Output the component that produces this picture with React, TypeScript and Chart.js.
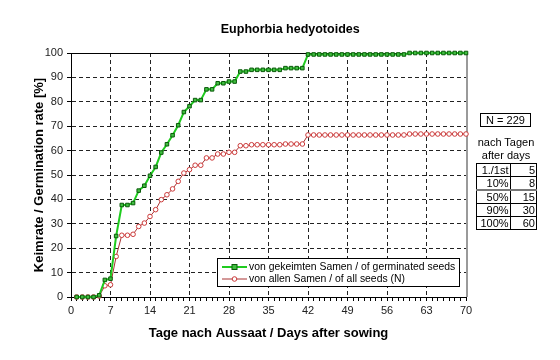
import React, { useEffect, useRef } from 'react';
import { Chart, registerables } from 'chart.js';

Chart.register(...registerables);

const chartTitle = 'Euphorbia hedyotoides';
const xAxisTitle = 'Tage nach Aussaat / Days after sowing';
const yAxisTitle = 'Keimrate / Germination rate [%]';
const seriesLabels = ['von gekeimten Samen / of germinated seeds', 'von allen Samen / of all seeds (N)'];

const days = [
  1, 2, 3, 4, 5, 6, 7, 8, 9, 10, 11, 12, 13, 14, 15, 16, 17, 18, 19, 20,
  21, 22, 23, 24, 25, 26, 27, 28, 29, 30, 31, 32, 33, 34, 35, 36, 37, 38, 39, 40,
  41, 42, 43, 44, 45, 46, 47, 48, 49, 50, 51, 52, 53, 54, 55, 56, 57, 58, 59, 60,
  61, 62, 63, 64, 65, 66, 67, 68, 69, 70,
];

const germinatedSeeds = [
  0, 0, 0, 0, 0.7, 7, 7.5, 25, 37.7, 37.7,
  38.5, 43.6, 45.6, 49.7, 53.3, 59.2, 62.6, 66.3, 70.4, 75.8,
  78.2, 80.7, 80.7, 85.1, 85.1, 87.6, 87.6, 88.3, 88.3, 92.4,
  92.4, 93.1, 93.1, 93.1, 93.1, 93.1, 93.1, 93.8, 93.8, 93.8,
  93.8, 99.4, 99.4, 99.4, 99.4, 99.4, 99.4, 99.4, 99.4, 99.4,
  99.4, 99.4, 99.4, 99.4, 99.4, 99.4, 99.4, 99.4, 99.4, 100,
  100, 100, 100, 100, 100, 100, 100, 100, 100, 100,
];

const allSeeds = [
  0, 0, 0, 0, 0.4, 4.6, 5.0, 16.6, 25.3, 25.3,
  25.7, 28.9, 30.3, 33.0, 35.8, 39.9, 41.9, 44.3, 47.4, 50.8,
  52.2, 54.0, 54.0, 57.0, 57.0, 58.6, 58.6, 59.3, 59.3, 62.0,
  62.0, 62.4, 62.4, 62.4, 62.4, 62.4, 62.4, 62.7, 62.7, 62.7,
  62.7, 66.4, 66.4, 66.4, 66.4, 66.4, 66.4, 66.4, 66.4, 66.4,
  66.4, 66.4, 66.4, 66.4, 66.4, 66.4, 66.4, 66.4, 66.4, 66.8,
  66.8, 66.8, 66.8, 66.8, 66.8, 66.8, 66.8, 66.8, 66.8, 66.8,
];

const xMajorStep = 7;
const xMax = 70;
const yMax = 100;
const yStep = 10;

const sampleSizeText = 'N = 229';
const tableHeader = ['nach Tagen', 'after days'];
const milestoneLabels = ['1./1st', '10%', '50%', '90%', '100%'];
const milestoneDays = ['5', '8', '15', '30', '60'];

const FONT = '"Liberation Sans", Arial, Helvetica, sans-serif';

const GREEN_LINE = '#1fcc1f';
const GREEN_FILL = '#3fbf3f';
const GREEN_EDGE = '#0a5a0a';
const RED_LINE = '#a83232';
const RED_EDGE = '#cc3a3a';

function drawSquare(ctx: CanvasRenderingContext2D, x: number, y: number) {
  ctx.fillStyle = GREEN_FILL;
  ctx.strokeStyle = GREEN_EDGE;
  ctx.lineWidth = 1;
  ctx.fillRect(x - 2.5, y - 2.5, 5, 5);
  ctx.strokeRect(x - 2.5, y - 2.5, 5, 5);
}

function drawCircle(ctx: CanvasRenderingContext2D, x: number, y: number) {
  ctx.fillStyle = '#fff';
  ctx.strokeStyle = RED_EDGE;
  ctx.lineWidth = 1;
  ctx.beginPath();
  ctx.arc(x, y, 2.3, 0, Math.PI * 2);
  ctx.fill();
  ctx.stroke();
}

const titlePlugin = {
  id: 'customTitle',
  afterDraw(chart: any) {
    const { ctx, chartArea: a } = chart;
    ctx.save();
    ctx.font = `bold 12.5px ${FONT}`;
    ctx.fillStyle = '#000';
    ctx.textAlign = 'center';
    ctx.textBaseline = 'middle';
    ctx.fillText(chartTitle, a.left + (a.right - a.left) * 0.555, a.top - 23);
    ctx.restore();
  },
};

const framePlugin = {
  id: 'frame',
  beforeDatasetsDraw(chart: any) {
    const { ctx, chartArea: a } = chart;
    ctx.save();
    ctx.strokeStyle = '#000';
    ctx.lineWidth = 1;
    ctx.beginPath();
    ctx.moveTo(a.left, Math.round(a.top) + 0.5);
    ctx.lineTo(a.right, Math.round(a.top) + 0.5);
    ctx.stroke();
    ctx.strokeStyle = '#9a9a9a';
    ctx.lineWidth = 2;
    ctx.beginPath();
    ctx.moveTo(Math.round(a.right) + 1, a.top);
    ctx.lineTo(Math.round(a.right) + 1, a.bottom);
    ctx.stroke();
    ctx.restore();
  },
};

const legendPlugin = {
  id: 'insideLegend',
  afterDatasetsDraw(chart: any) {
    const { ctx, chartArea: a } = chart;
    const w = 242;
    const h = 28;
    const right = Math.round(a.right) - 7;
    const bottom = Math.round(a.bottom) - 11;
    const left = right - w;
    const top = bottom - h;
    ctx.save();
    ctx.fillStyle = '#fff';
    ctx.fillRect(left, top, w, h);
    ctx.strokeStyle = '#000';
    ctx.lineWidth = 1;
    ctx.strokeRect(left + 0.5, top + 0.5, w, h);
    ctx.font = `10.4px ${FONT}`;
    ctx.textBaseline = 'middle';
    ctx.textAlign = 'left';
    const rows = [top + 9, top + 21];
    ctx.strokeStyle = GREEN_LINE;
    ctx.lineWidth = 2;
    ctx.beginPath();
    ctx.moveTo(left + 5, rows[0]);
    ctx.lineTo(left + 30, rows[0]);
    ctx.stroke();
    drawSquare(ctx, left + 17.5, rows[0]);
    ctx.fillStyle = '#000';
    ctx.fillText(seriesLabels[0], left + 32, rows[0] + 0.5);
    ctx.strokeStyle = RED_LINE;
    ctx.lineWidth = 1;
    ctx.beginPath();
    ctx.moveTo(left + 5, rows[1]);
    ctx.lineTo(left + 30, rows[1]);
    ctx.stroke();
    drawCircle(ctx, left + 17.5, rows[1]);
    ctx.fillStyle = '#000';
    ctx.fillText(seriesLabels[1], left + 32, rows[1] + 0.5);
    ctx.restore();
  },
};

export default function App() {
  const ref = useRef<HTMLCanvasElement>(null);

  useEffect(() => {
    if (!ref.current) return;
    Chart.defaults.font.family = FONT;
    const chart = new Chart(ref.current, {
      type: 'line',
      data: {
        datasets: [
          {
            label: seriesLabels[0],
            data: days.map((d, i) => ({ x: d, y: germinatedSeeds[i] })),
            borderColor: GREEN_LINE,
            borderWidth: 2,
            pointStyle: 'rect',
            pointRadius: 2.5,
            pointBackgroundColor: GREEN_FILL,
            pointBorderColor: GREEN_EDGE,
            pointBorderWidth: 1,
            tension: 0,
            clip: false,
          } as any,
          {
            label: seriesLabels[1],
            data: days.map((d, i) => ({ x: d, y: allSeeds[i] })),
            borderColor: RED_LINE,
            borderWidth: 1,
            pointStyle: 'circle',
            pointRadius: 2.3,
            pointBackgroundColor: '#fff',
            pointBorderColor: RED_EDGE,
            pointBorderWidth: 1,
            tension: 0,
            clip: false,
          } as any,
        ],
      },
      options: {
        responsive: false,
        animation: false,
        devicePixelRatio: 1,
        layout: { padding: { left: 32, right: 94, top: 53, bottom: 0 } },
        plugins: {
          legend: { display: false },
          tooltip: { enabled: false },
          title: { display: false },
        },
        scales: {
          x: {
            type: 'linear',
            min: 0,
            max: xMax,
            afterFit: (s: any) => {
              s.height = 63;
            },
            ticks: {
              stepSize: 1,
              autoSkip: false,
              maxRotation: 0,
              color: '#222',
              font: { size: 11, family: FONT },
              padding: 3,
              callback: (v: any) => (Number(v) % xMajorStep === 0 ? String(v) : ''),
            },
            grid: {
              color: (c: any) =>
                c.tick && c.tick.value % xMajorStep === 0 && c.tick.value > 0 && c.tick.value < xMax
                  ? '#222'
                  : 'rgba(0,0,0,0)',
              tickColor: '#000',
              tickLength: 4,
              tickBorderDash: [],
            },
            border: { color: '#000', width: 1, dash: [4, 3] },
            title: {
              display: true,
              text: xAxisTitle,
              color: '#000',
              font: { size: 13, weight: 'bold', family: FONT },
              padding: { top: 0, bottom: 19 },
            },
          },
          y: {
            min: 0,
            max: yMax,
            afterFit: (s: any) => {
              s.width = 39;
            },
            ticks: {
              stepSize: yStep,
              color: '#222',
              font: { size: 11, family: FONT },
              padding: 4,
            },
            grid: {
              color: (c: any) =>
                c.tick && c.tick.value > 0 && c.tick.value < yMax ? '#222' : 'rgba(0,0,0,0)',
              tickColor: '#000',
              tickLength: 4,
              tickBorderDash: [],
            },
            border: { color: '#000', width: 1, dash: [4, 3] },
            title: {
              display: true,
              text: yAxisTitle,
              color: '#000',
              font: { size: 13, weight: 'bold', family: FONT },
              padding: { top: 0, bottom: 0 },
            },
          },
        },
      } as any,
      plugins: [framePlugin, legendPlugin, titlePlugin],
    });
    return () => chart.destroy();
  }, []);

  const cellBase: React.CSSProperties = {
    border: '1px solid #000',
    padding: '0 1px 0 0',
    height: 12,
    lineHeight: '12px',
    textAlign: 'right',
  };

  return (
    <div
      style={{
        position: 'fixed',
        left: 0,
        top: 0,
        width: 560,
        height: 360,
        background: '#fff',
        fontFamily: FONT,
        color: '#000',
      }}
    >
      <canvas
        ref={ref}
        width={560}
        height={360}
        style={{ position: 'absolute', left: 0, top: 0, width: 560, height: 360 }}
      />
      <div
        style={{
          position: 'absolute',
          left: 480,
          top: 113,
          width: 49,
          height: 12,
          border: '1px solid #000',
          fontSize: 11,
          lineHeight: '12px',
          textAlign: 'center',
        }}
      >
        {sampleSizeText}
      </div>
      <div
        style={{
          position: 'absolute',
          left: 466,
          top: 136,
          width: 80,
          fontSize: 11,
          lineHeight: '13px',
          textAlign: 'center',
        }}
      >
        <div>{tableHeader[0]}</div>
        <div>{tableHeader[1]}</div>
      </div>
      <table
        style={{
          position: 'absolute',
          left: 476,
          top: 163,
          width: 61,
          borderCollapse: 'collapse',
          fontSize: 11,
          fontFamily: FONT,
        }}
      >
        <tbody>
          {milestoneLabels.map((lab, i) => (
            <tr key={lab}>
              <td
                style={{
                  ...cellBase,
                  width: 32,
                  borderTop: i === 2 ? '2px solid #777' : cellBase.border,
                }}
              >
                {lab}
              </td>
              <td
                style={{
                  ...cellBase,
                  width: 26,
                  borderTop: i === 2 ? '2px solid #777' : cellBase.border,
                }}
              >
                {milestoneDays[i]}
              </td>
            </tr>
          ))}
        </tbody>
      </table>
    </div>
  );
}
